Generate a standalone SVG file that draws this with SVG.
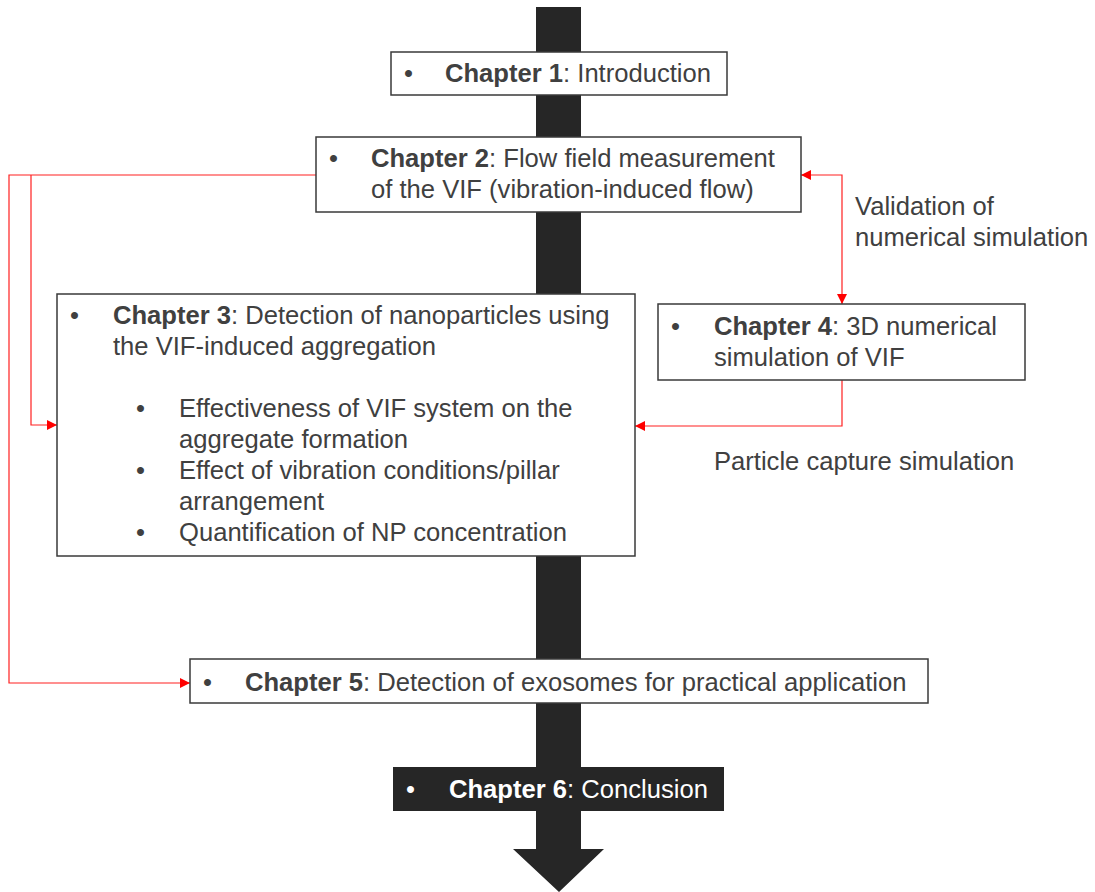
<svg xmlns="http://www.w3.org/2000/svg" width="1095" height="892" viewBox="0 0 1095 892">
  <style>
    .box { fill: #ffffff; stroke: #3a3a3a; stroke-width: 1.5; }
    .dark { fill: #262626; }
    .t { font-family: "Liberation Sans", Arial, sans-serif; font-size: 25.6px; fill: #404040; }
    .tw { font-family: "Liberation Sans", Arial, sans-serif; font-size: 25.6px; fill: #ffffff; }
    .b { font-weight: bold; }
    .link { fill: none; stroke: #ff2020; stroke-width: 1.2; }
  </style>
  <defs>
    <marker id="arr" viewBox="0 0 10 10" refX="10" refY="5" markerWidth="10" markerHeight="10" markerUnits="userSpaceOnUse" orient="auto-start-reverse">
      <path d="M0,0 L10,5 L0,10 Z" fill="#ff0000"/>
    </marker>
  </defs>

  <!-- main timeline arrow -->
  <g id="spine">
    <path class="dark" d="M536,7 H581 V849 H604 L559,892 L513,849 H536 Z"/>
  </g>

  <!-- connectors -->
  <g id="connectors">
    <path class="link" d="M316,175 H9 V683 H190" marker-end="url(#arr)"/>
    <path class="link" d="M31,175 V425 H57" marker-end="url(#arr)"/>
    <path class="link" d="M801,175 H842 V304" marker-start="url(#arr)" marker-end="url(#arr)"/>
    <path class="link" d="M842,380 V426 H635" marker-end="url(#arr)"/>
  </g>

  <g id="ch1">
    <rect class="box" x="391" y="52" width="336" height="43"/>
    <text class="t" x="404" y="82">•</text>
    <text class="t" x="445" y="82"><tspan class="b">Chapter 1</tspan>: Introduction</text>
  </g>

  <g id="ch2">
    <rect class="box" x="316" y="137" width="485" height="75"/>
    <text class="t" x="329" y="167">•</text>
    <text class="t" x="371" y="167"><tspan class="b">Chapter 2</tspan>: Flow field measurement</text>
    <text class="t" x="371" y="198">of the VIF (vibration-induced flow)</text>
  </g>

  <g id="ch3">
    <rect class="box" x="57" y="294" width="578" height="262"/>
    <text class="t" x="70" y="324">•</text>
    <text class="t" x="113" y="324"><tspan class="b">Chapter 3</tspan>: Detection of nanoparticles using</text>
    <text class="t" x="113" y="355">the VIF-induced aggregation</text>
    <text class="t" x="136" y="417">•</text>
    <text class="t" x="179" y="417">Effectiveness of VIF system on the</text>
    <text class="t" x="179" y="448">aggregate formation</text>
    <text class="t" x="136" y="479">•</text>
    <text class="t" x="179" y="479">Effect of vibration conditions/pillar</text>
    <text class="t" x="179" y="510">arrangement</text>
    <text class="t" x="136" y="541">•</text>
    <text class="t" x="179" y="541">Quantification of NP concentration</text>
  </g>

  <g id="ch4">
    <rect class="box" x="658" y="304" width="367" height="76"/>
    <text class="t" x="671" y="335">•</text>
    <text class="t" x="714" y="335"><tspan class="b">Chapter 4</tspan>: 3D numerical</text>
    <text class="t" x="714" y="366">simulation of VIF</text>
  </g>

  <g id="ch5">
    <rect class="box" x="190" y="659" width="738" height="44"/>
    <text class="t" x="203" y="691">•</text>
    <text class="t" x="245" y="691"><tspan class="b">Chapter 5</tspan>: Detection of exosomes for practical application</text>
  </g>

  <g id="ch6">
    <rect class="dark" x="393" y="767" width="331" height="44"/>
    <text class="tw" x="406" y="798">•</text>
    <text class="tw" x="449" y="798"><tspan class="b">Chapter 6</tspan>: Conclusion</text>
  </g>

  <g id="labels">
    <text class="t" x="855" y="215">Validation of</text>
    <text class="t" x="855" y="246">numerical simulation</text>
    <text class="t" x="714" y="470">Particle capture simulation</text>
  </g>
</svg>
